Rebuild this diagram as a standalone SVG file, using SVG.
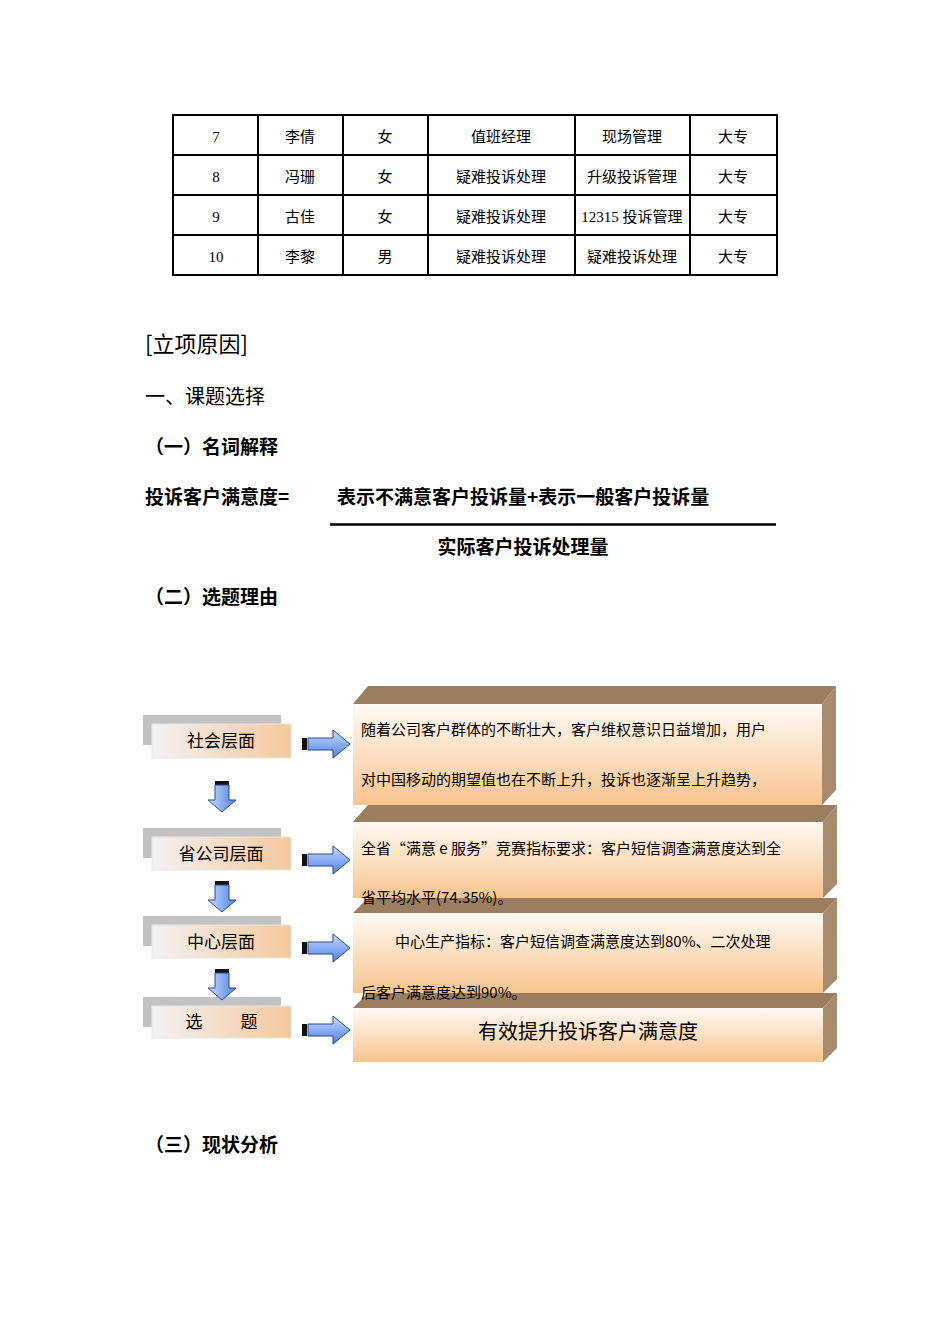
<svg xmlns="http://www.w3.org/2000/svg" width="950" height="1344" viewBox="0 0 950 1344">
<style>
.t{font-family:"Liberation Serif","Noto Sans CJK SC",serif;font-size:15px;fill:#000;text-anchor:middle}
.h{font-family:"Noto Sans CJK SC",sans-serif;font-size:20px;fill:#000}
.b{font-family:"Noto Sans CJK SC",sans-serif;font-size:19px;fill:#000;font-weight:bold}
.lb{font-family:"Noto Sans CJK SC",sans-serif;font-size:17px;fill:#000;text-anchor:middle}
.bx{font-family:"Noto Sans CJK SC",sans-serif;font-size:15px;fill:#000}
.top{fill:#9b7d60}
.side{fill:#a88a6c}
.front{fill:url(#fg)}
.gray{fill:#c2c2c2}
.lab{fill:url(#lg);stroke:#e6e6e6}
.ar{fill:url(#ag);stroke:#2a4a8a;stroke-width:1}
</style>
<defs>
<linearGradient id="fg" x1="0" y1="0" x2="0" y2="1"><stop offset="0" stop-color="#fffaf4"/><stop offset="1" stop-color="#f8c48e"/></linearGradient>
<linearGradient id="lg" x1="0" y1="0" x2="1" y2="0"><stop offset="0" stop-color="#f2f2f2"/><stop offset="1" stop-color="#f6c79c"/></linearGradient>
<linearGradient id="ag" x1="0" y1="0" x2="0" y2="1"><stop offset="0" stop-color="#c8dcff"/><stop offset="1" stop-color="#4d80e6"/></linearGradient>
<linearGradient id="agv" x1="0" y1="0" x2="1" y2="0"><stop offset="0" stop-color="#c8dcff"/><stop offset="1" stop-color="#4d80e6"/></linearGradient>
</defs>
<rect width="950" height="1344" fill="#fff"/>
<g id="table" fill="none" stroke="#000" stroke-width="2">
<rect x="173" y="115" width="604" height="160"/>
<path d="M173 155H777M173 195H777M173 235H777M258 115V275M343 115V275M428 115V275M575 115V275M690 115V275"/>
</g>
<g id="table-text">
<text class="t" x="216" y="142">7</text><text class="t" x="300" y="142">李倩</text><text class="t" x="385" y="142">女</text><text class="t" x="501" y="142">值班经理</text><text class="t" x="632" y="142">现场管理</text><text class="t" x="733" y="142">大专</text>
<text class="t" x="216" y="182">8</text><text class="t" x="300" y="182">冯珊</text><text class="t" x="385" y="182">女</text><text class="t" x="501" y="182">疑难投诉处理</text><text class="t" x="632" y="182">升级投诉管理</text><text class="t" x="733" y="182">大专</text>
<text class="t" x="216" y="222">9</text><text class="t" x="300" y="222">古佳</text><text class="t" x="385" y="222">女</text><text class="t" x="501" y="222">疑难投诉处理</text><text class="t" x="632" y="222">12315 投诉管理</text><text class="t" x="733" y="222">大专</text>
<text class="t" x="216" y="262">10</text><text class="t" x="300" y="262">李黎</text><text class="t" x="385" y="262">男</text><text class="t" x="501" y="262">疑难投诉处理</text><text class="t" x="632" y="262">疑难投诉处理</text><text class="t" x="733" y="262">大专</text>
</g>
<g id="headings">
<text class="h" x="145" y="352" style="font-size:22px">[立项原因]</text>
<text class="h" x="145" y="404">一、课题选择</text>
<text class="b" x="145" y="454">（一）名词解释</text>
<text class="b" x="145" y="504">投诉客户满意度=</text>
<text class="b" x="337" y="504">表示不满意客户投诉量+表示一般客户投诉量</text>
<line x1="330" y1="524.5" x2="776" y2="524.5" stroke="#000" stroke-width="2.5"/>
<text class="b" x="523" y="554" text-anchor="middle">实际客户投诉处理量</text>
<text class="b" x="145" y="604">（二）选题理由</text>
<text class="b" x="145" y="1152">（三）现状分析</text>
</g>
<g id="box1"><path class="top" d="M353 704L368 686H836L822 704Z"/><path class="side" d="M822 704L836 686V790L822 805Z"/><rect class="front" x="353" y="704" width="469" height="101"/>
<text class="bx" x="361" y="735">随着公司客户群体的不断壮大，客户维权意识日益增加，用户</text>
<text class="bx" x="361" y="785">对中国移动的期望值也在不断上升，投诉也逐渐呈上升趋势，</text></g>
<g id="box2"><path class="top" d="M353 822L368 805H837L823 822Z"/><path class="side" d="M823 822L837 805V884L823 898Z"/><rect class="front" x="353" y="822" width="470" height="76"/>
<text class="bx" x="361" y="854">全省“满意 e 服务”竞赛指标要求：客户短信调查满意度达到全</text></g>
<g id="box3"><path class="top" d="M353 913L368 898H837L823 913Z"/><path class="side" d="M823 913L837 898V979L823 993Z"/><rect class="front" x="353" y="913" width="470" height="80"/>
<text class="bx" x="361" y="903">省平均水平(74.35%)。</text>
<text class="bx" x="395" y="947">中心生产指标：客户短信调查满意度达到80%、二次处理</text></g>
<g id="box4"><path class="top" d="M353 1008L368 993H837L823 1008Z"/><path class="side" d="M823 1008L837 993V1048L823 1062Z"/><rect class="front" x="353" y="1008" width="470" height="54"/>
<text class="bx" x="361" y="998">后客户满意度达到90%。</text>
<text class="lb" x="588" y="1039" style="font-size:20px">有效提升投诉客户满意度</text></g>
<g id="n1"><rect class="gray" x="143" y="715" width="138" height="30"/><rect class="lab" x="152" y="724" width="139" height="34"/><text class="lb" x="221" y="747">社会层面</text></g>
<g id="n2"><rect class="gray" x="143" y="828" width="138" height="30"/><rect class="lab" x="152" y="837" width="139" height="33"/><text class="lb" x="221" y="860">省公司层面</text></g>
<g id="n3"><rect class="gray" x="143" y="916" width="138" height="30"/><rect class="lab" x="152" y="925" width="139" height="33"/><text class="lb" x="221" y="948">中心层面</text></g>
<g id="n4"><rect class="gray" x="143" y="997" width="138" height="30"/><rect class="lab" x="152" y="1006" width="139" height="32"/><text class="lb" x="194" y="1028">选</text><text class="lb" x="249" y="1028">题</text></g>
<g id="connectors">
<g transform="translate(0,744)"><rect x="302" y="-6" width="5" height="12" fill="#111"/><path class="ar" d="M308 -6H333V-14L350 0L333 14V6H308Z"/></g>
<g transform="translate(0,860)"><rect x="302" y="-6" width="5" height="12" fill="#111"/><path class="ar" d="M308 -6H333V-14L350 0L333 14V6H308Z"/></g>
<g transform="translate(0,948)"><rect x="302" y="-6" width="5" height="12" fill="#111"/><path class="ar" d="M308 -6H333V-14L350 0L333 14V6H308Z"/></g>
<g transform="translate(0,1030)"><rect x="302" y="-6" width="5" height="12" fill="#111"/><path class="ar" d="M308 -6H333V-14L350 0L333 14V6H308Z"/></g>
<g transform="translate(222,781)"><rect x="-7" y="0" width="14" height="4" fill="#111"/><path d="M-7 4V19H-14L0 31L14 19H7V4Z" fill="url(#agv)" stroke="#2a4a8a"/></g>
<g transform="translate(222,881)"><rect x="-7" y="0" width="14" height="4" fill="#111"/><path d="M-7 4V19H-14L0 31L14 19H7V4Z" fill="url(#agv)" stroke="#2a4a8a"/></g>
<g transform="translate(222,969)"><rect x="-7" y="0" width="14" height="4" fill="#111"/><path d="M-7 4V19H-14L0 31L14 19H7V4Z" fill="url(#agv)" stroke="#2a4a8a"/></g>
</g>
</svg>
